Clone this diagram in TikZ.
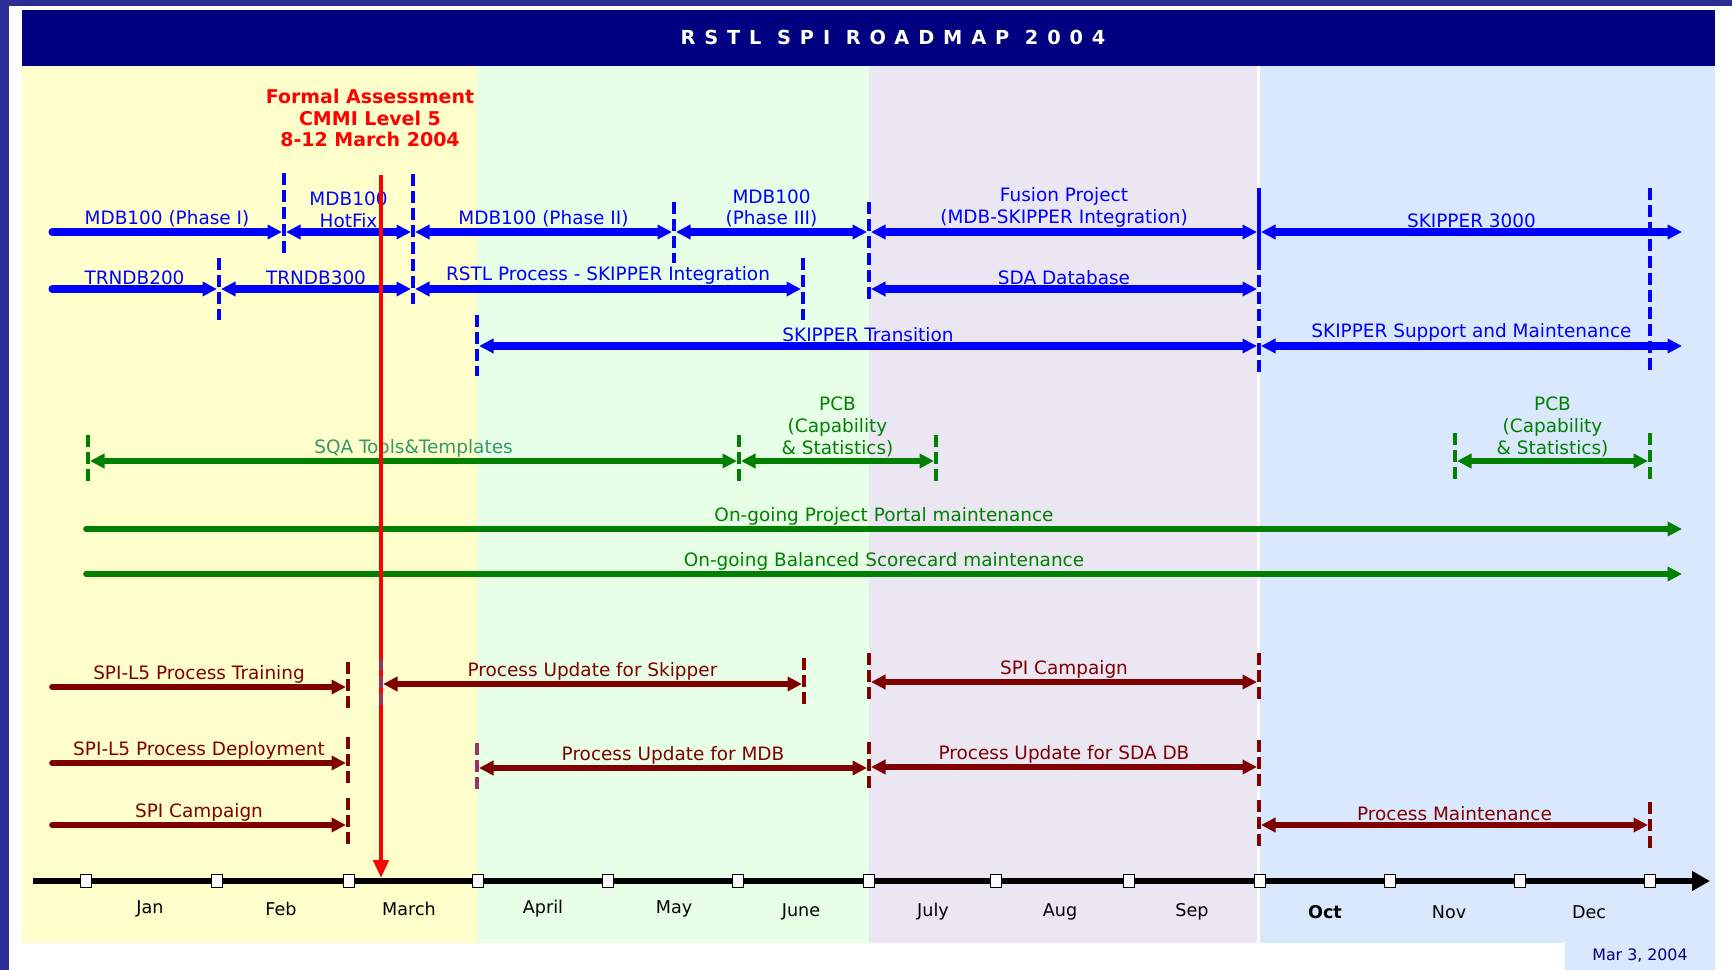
\documentclass[tikz,border=0pt]{standalone}
\usepackage{fontspec}
\setmainfont{DejaVu Sans}
\newfontfamily\titlefont[LetterSpace=46]{DejaVu Sans}
\usepackage{tikz}
\usetikzlibrary{arrows.meta}

\definecolor{slideblue}{RGB}{45,45,150}
\definecolor{titlenavy}{RGB}{0,0,128}
\definecolor{bandyellow}{RGB}{255,255,204}
\definecolor{bandgreen}{RGB}{230,255,230}
\definecolor{bandlilac}{RGB}{234,230,242}
\definecolor{bandblue}{RGB}{217,232,252}
\definecolor{projblue}{RGB}{0,0,255}
\definecolor{qagreen}{RGB}{0,128,0}
\definecolor{sqagreen}{RGB}{51,153,102}
\definecolor{procred}{RGB}{128,0,0}
\definecolor{mauve}{RGB}{153,51,102}

\tikzstyle{dashstop} = [line width=2.6pt, dash pattern=on 2.4mm off 1mm]

% a bar of the roadmap: name, style, x from, x to, y, label
\newcommand\roadphase[6]{%
  \coordinate (#1s) at (#3,#5);
  \coordinate (#1e) at (#4,#5);
  \path[#2] (#1s) edge node[lbl] (#1) {#6} (#1e);
}
% a dashed milestone: name, style, x, y top, y bottom
\newcommand\roadstop[5]{%
  \coordinate (#1t) at (#3,#4);
  \coordinate (#1b) at (#3,#5);
  \path[#2] (#1t) edge (#1b);
}

\begin{document}
\begin{tikzpicture}[x=0.2mm, y=-0.2mm,
    >={Triangle[length=2.9mm,width=2.8mm]},
    lbl/.style={above, inner sep=0.6pt, align=center, font=\fontsize{10.5}{12.5}\selectfont},
    proj/.style={projblue, line width=4pt, line cap=round},
    qa/.style={qagreen, line width=3.2pt, line cap=round},
    proc/.style={procred, line width=3.2pt, line cap=round},
    projstop/.style={dashstop, projblue},
    qastop/.style={dashstop, qagreen},
    procstop/.style={dashstop, procred},
    mauvestop/.style={dashstop, mauve},
    tickbox/.style={draw, fill=white, line width=0.9pt, minimum width=2.2mm, minimum height=2.6mm, inner sep=0pt},
    month/.style={font=\fontsize{10}{12}\selectfont}]

  \useasboundingbox (0,0) rectangle (1732,970);
  \fill[slideblue] (0,0) rectangle (1732,970);
  \fill[white] (9,6) rectangle (1732,970);
  \fill[titlenavy] (22,10) rectangle (1715,66);
  \fill[bandyellow] (22,66) rectangle (477,943);
  \fill[bandgreen] (477,66) rectangle (869,943);
  \fill[bandlilac] (869,66) rectangle (1257,943);
  \fill[bandblue] (1260,66) rectangle (1715,943);
  \fill[bandblue] (1565,943) rectangle (1715,970);
  \node[white, font=\titlefont\bfseries\fontsize{11}{13}\selectfont] (title) at (893,37) {RSTL SPI ROADMAP 2004};

  % MDB100, TRNDB and SKIPPER
  \roadstop{s1}{projstop}{284}{173}{257}
  \roadstop{s2}{projstop}{219}{258}{320}
  \roadstop{s3}{projstop}{413}{174}{304}
  \roadstop{s4}{projstop}{477}{315}{376}
  \roadstop{s5}{projstop}{674}{202}{263}
  \roadstop{s6}{projstop}{803}{258}{320}
  \roadstop{s7}{projstop}{869}{202}{300}
  \roadstop{s8}{projblue,line width=2.6pt}{1259}{188}{270}
  \roadstop{s9}{projstop}{1259}{275}{377}
  \roadstop{s10}{projstop}{1650}{188}{375}

  \roadphase{phaseI}{proj,->}{52}{282}{232}{MDB100 (Phase I)}
  \roadphase{hotfix}{proj,<->}{286}{411}{232}{MDB100\\HotFix}
  \roadphase{phaseII}{proj,<->}{415}{672}{232}{MDB100 (Phase II)}
  \roadphase{phaseIII}{proj,<->}{676}{867}{232}{MDB100\\(Phase III)}
  \roadphase{fusion}{proj,<->}{871}{1257}{232}{Fusion Project\\(MDB-SKIPPER Integration)}
  \roadphase{skipper}{proj,<->}{1261}{1682}{232}{SKIPPER 3000}
  \roadphase{trnA}{proj,->}{52}{217}{289}{TRNDB200}
  \roadphase{trnB}{proj,<->}{221}{411}{289}{TRNDB300}
  \roadphase{rstl}{proj,<->}{415}{801}{289}{RSTL Process - SKIPPER Integration}
  \roadphase{sda}{proj,<->}{871}{1257}{289}{SDA Database}
  \roadphase{trans}{proj,<->}{479}{1257}{346}{SKIPPER Transition}
  \roadphase{support}{proj,<->}{1261}{1682}{346}{SKIPPER Support and Maintenance}

  % QA tools
  \roadstop{q1}{qastop}{88}{435}{483}
  \roadstop{q2}{qastop}{739}{435}{483}
  \roadstop{q3}{qastop}{936}{435}{483}
  \roadstop{q4}{qastop}{1455}{433}{483}
  \roadstop{q5}{qastop}{1650}{433}{483}

  \roadphase{sqa}{qa,<->}{90}{737}{461}{\textcolor{sqagreen}{SQA Tools\&Templates}}
  \roadphase{pcbA}{qa,<->}{741}{934}{461}{PCB\\(Capability\\\& Statistics)}
  \roadphase{pcbB}{qa,<->}{1457}{1648}{461}{PCB\\(Capability\\\& Statistics)}
  \roadphase{portal}{qa,->}{86}{1682}{529}{On-going Project Portal maintenance}
  \roadphase{score}{qa,->}{86}{1682}{574}{On-going Balanced Scorecard maintenance}

  % assessment
  \coordinate (cmmit) at (381,175);
  \coordinate (cmmib) at (381,878);
  \path[red, line width=2.8pt, -{Triangle[length=3.6mm,width=3mm]}] (cmmit) edge (cmmib);
  \node[red, font=\bfseries\fontsize{10.8}{12.3}\selectfont, align=center] (cmmi) at (370,118) {Formal Assessment\\CMMI Level 5\\8-12 March 2004};

  % process
  \roadstop{p1}{procstop}{348}{662}{710}
  \roadstop{p2}{procstop}{348}{737}{787}
  \roadstop{p3}{procstop}{348}{798}{847}
  \roadstop{p4}{mauvestop}{381}{659}{707}
  \roadstop{p5}{mauvestop}{477}{743}{792}
  \roadstop{p6}{procstop}{804}{658}{707}
  \roadstop{p7}{procstop}{869}{653}{702}
  \roadstop{p8}{procstop}{869}{742}{790}
  \roadstop{p9}{procstop}{1259}{653}{702}
  \roadstop{p10}{procstop}{1259}{740}{788}
  \roadstop{p11}{procstop}{1259}{800}{850}
  \roadstop{p12}{procstop}{1650}{802}{850}

  \roadphase{train}{proc,->}{52}{346}{687}{SPI-L5 Process Training}
  \roadphase{updsk}{proc,<->}{383}{802}{684}{Process Update for Skipper}
  \roadphase{campA}{proc,<->}{871}{1257}{682}{SPI Campaign}
  \roadphase{deploy}{proc,->}{52}{346}{763}{SPI-L5 Process Deployment}
  \roadphase{updmdb}{proc,<->}{479}{867}{768}{Process Update for MDB}
  \roadphase{updsda}{proc,<->}{871}{1257}{767}{Process Update for SDA DB}
  \roadphase{campB}{proc,->}{52}{346}{825}{SPI Campaign}
  \roadphase{maint}{proc,<->}{1261}{1648}{825}{Process Maintenance}

  % time axis
  \coordinate (axs) at (33,881);
  \coordinate (axe) at (1710,881);
  \path[black, line width=3.4pt, -{Triangle[length=3.6mm,width=3.8mm]}] (axs) edge (axe);
  \node[tickbox] (t0) at (86,881) {};   \node[tickbox] (t1) at (217,881) {};
  \node[tickbox] (t2) at (349,881) {};  \node[tickbox] (t3) at (478,881) {};
  \node[tickbox] (t4) at (608,881) {};  \node[tickbox] (t5) at (738,881) {};
  \node[tickbox] (t6) at (869,881) {};  \node[tickbox] (t7) at (996,881) {};
  \node[tickbox] (t8) at (1129,881) {}; \node[tickbox] (t9) at (1260,881) {};
  \node[tickbox] (t10) at (1390,881) {}; \node[tickbox] (t11) at (1520,881) {};
  \node[tickbox] (t12) at (1650,881) {};

  \node[month] (jan) at (150,909) {Jan};
  \node[month] (feb) at (281,909) {Feb};
  \node[month] (mar) at (409,909) {March};
  \node[month] (apr) at (543,909) {April};
  \node[month] (may) at (674,909) {May};
  \node[month] (jun) at (801,912) {June};
  \node[month] (jul) at (933,912) {July};
  \node[month] (aug) at (1060,912) {Aug};
  \node[month] (sep) at (1192,912) {Sep};
  \node[month, font=\bfseries\fontsize{10}{12}\selectfont] (oct) at (1325,912) {Oct};
  \node[month] (nov) at (1449,912) {Nov};
  \node[month] (dec) at (1589,912) {Dec};

  \node[titlenavy, font=\fontsize{9}{11}\selectfont] (date) at (1640,956) {Mar 3, 2004};
\end{tikzpicture}
\end{document}
